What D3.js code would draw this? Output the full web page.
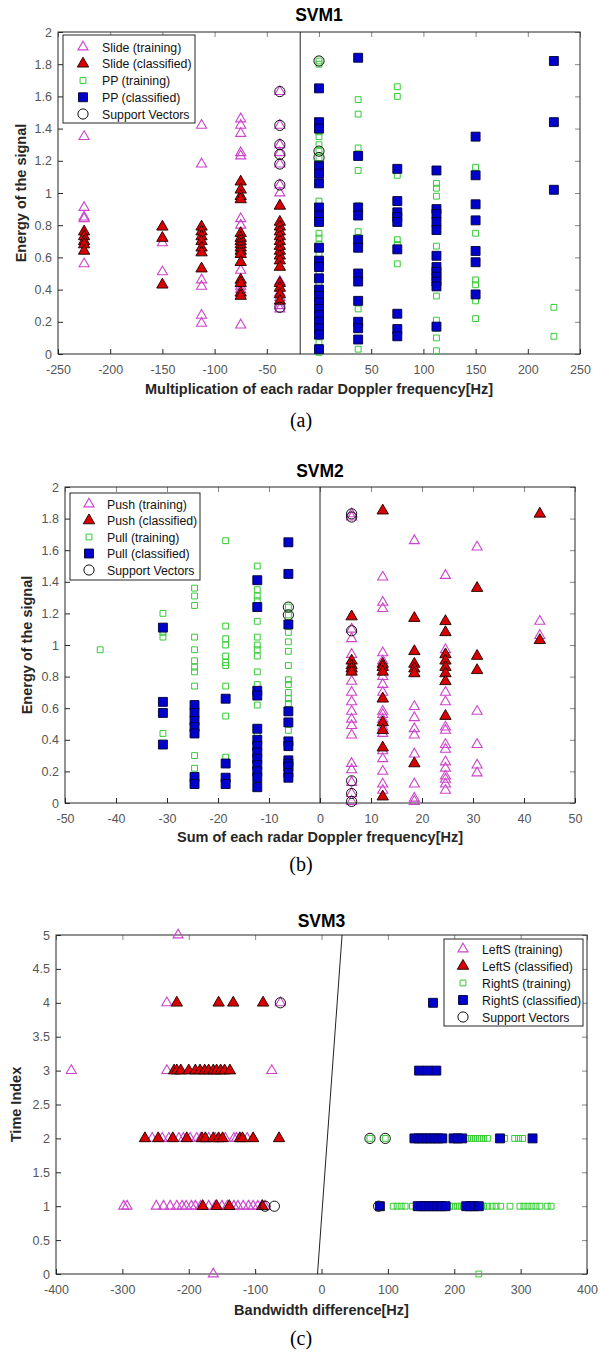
<!DOCTYPE html>
<html>
<head>
<meta charset="utf-8">
<script src="https://cdn.jsdelivr.net/npm/d3@7"></script>
<style>
  body { margin: 0; background: #fff; }
  svg text { font-family: "Liberation Sans", Arial, sans-serif; }
</style>
</head>
<body>
<div id="chart"></div>
<script>
// ---- SVM1 : [x, [y values]] columns ----
const slideTrainA = [
  [-225, [1.35, 0.91, 0.85, 0.84, 0.56]],
  [-150, [0.69, 0.51]],
  [-112.5, [1.42, 1.18, 0.46, 0.42, 0.24, 0.19]],
  [-75, [1.46, 1.42, 1.37, 1.25, 1.23, 0.84, 0.80, 0.52, 0.42, 0.40, 0.18]],
  [-37.5, [1.63, 1.42, 1.30, 1.25, 1.18, 1.05, 1.00, 0.92, 0.45, 0.38, 0.35, 0.30, 0.28]]
];
const slideClassA = [
  [-225, [0.76, 0.73, 0.70, 0.68, 0.64]],
  [-150, [0.79, 0.72, 0.43]],
  [-112.5, [0.79, 0.76, 0.73, 0.70, 0.66, 0.63, 0.53]],
  [-75, [1.07, 1.02, 0.98, 0.96, 0.75, 0.72, 0.70, 0.68, 0.66, 0.64, 0.62, 0.57, 0.46, 0.44, 0.38, 0.36]],
  [-37.5, [0.92, 0.82, 0.79, 0.76, 0.73, 0.70, 0.67, 0.64, 0.61, 0.58, 0.54, 0.44, 0.41, 0.37, 0.33]]
];
const ppTrainA = [
  [0, [1.82, 1.80, 1.38, 1.35, 1.30, 1.26, 1.22, 1.18, 0.95, 0.90, 0.75, 0.72, 0.68, 0.62, 0.50, 0.44, 0.07, 0.04, 0.01]],
  [37.5, [1.58, 1.49, 1.28, 1.14, 0.92, 0.76, 0.28, 0.03]],
  [75, [1.66, 1.60, 1.11, 0.71, 0.68, 0.56]],
  [112.5, [1.06, 1.03, 0.98, 0.88, 0.67, 0.36, 0.21, 0.16, 0.10, 0.02]],
  [150, [1.16, 0.75, 0.46, 0.43, 0.33, 0.22]],
  [225, [0.29, 0.11]]
];
const ppClassA = [
  [0, [1.65, 1.44, 1.40, 1.17, 1.12, 1.06, 0.91, 0.86, 0.82, 0.66, 0.58, 0.54, 0.47, 0.40, 0.36, 0.32, 0.28, 0.24, 0.20, 0.16, 0.12, 0.03]],
  [37.5, [1.84, 1.23, 0.91, 0.86, 0.71, 0.66, 0.50, 0.45, 0.33, 0.20, 0.16, 0.09]],
  [75, [1.15, 0.95, 0.88, 0.85, 0.82, 0.65, 0.25, 0.155, 0.11]],
  [112.5, [1.14, 0.90, 0.87, 0.82, 0.77, 0.61, 0.54, 0.51, 0.48, 0.45, 0.42, 0.17]],
  [150, [1.35, 1.11, 0.93, 0.83, 0.64, 0.57, 0.37]],
  [225, [1.82, 1.44, 1.02]]
];
const svA = [
  [-37.5, [1.63, 1.42, 1.30, 1.24, 1.18, 1.05, 0.29]],
  [0, [1.82, 1.26, 1.22]]
];
const boundaryA = [[-18, 0], [-18, 2]];
const xTicksA = [-250, -200, -150, -100, -50, 0, 50, 100, 150, 200, 250];
const yTicksA = [0, 0.2, 0.4, 0.6, 0.8, 1, 1.2, 1.4, 1.6, 1.8, 2];
const legendA = ["Slide (training)", "Slide (classified)", "PP (training)", "PP (classified)", "Support Vectors"];

// ---- SVM2 ----
const pushTrainB = [
  [6.2, [1.83, 1.81, 1.10, 1.04, 0.94, 0.85, 0.77, 0.70, 0.64, 0.58, 0.53, 0.49, 0.43, 0.25, 0.21, 0.13, 0.06, 0.01]],
  [12.3, [1.43, 1.27, 1.23, 0.95, 0.90, 0.86, 0.80, 0.75, 0.70, 0.66, 0.58, 0.56, 0.53, 0.48, 0.44, 0.33, 0.28, 0.20, 0.12, 0.08]],
  [18.5, [1.66, 0.61, 0.54, 0.47, 0.43, 0.31, 0.12, 0.03, 0.01]],
  [24.6, [1.44, 0.97, 0.70, 0.64, 0.48, 0.46, 0.37, 0.34, 0.26, 0.22, 0.17, 0.15, 0.12, 0.08]],
  [30.8, [1.62, 0.58, 0.37, 0.24, 0.19]],
  [43.1, [1.15, 1.06]]
];
const pushClassB = [
  [6.2, [1.18, 0.90, 0.87, 0.85, 0.83]],
  [12.3, [1.85, 0.88, 0.86, 0.83, 0.66, 0.51, 0.46, 0.35, 0.04]],
  [18.5, [1.17, 0.96, 0.88, 0.85, 0.82, 0.25]],
  [24.6, [1.15, 1.08, 0.94, 0.90, 0.86, 0.82, 0.77, 0.55]],
  [30.8, [1.36, 0.93, 0.84]],
  [43.1, [1.83, 1.03]]
];
const pullTrainB = [
  [-43.1, [0.97]],
  [-30.8, [1.20, 1.08, 1.05, 0.44]],
  [-24.6, [1.36, 1.31, 1.25, 1.05, 0.97, 0.90, 0.86, 0.83, 0.74, 0.30, 0.22]],
  [-18.5, [1.66, 1.12, 1.04, 1.00, 0.93, 0.89, 0.87, 0.74, 0.55, 0.29]],
  [-12.3, [1.50, 1.35, 1.31, 1.28, 1.25, 1.15, 1.05, 1.00, 0.97, 0.93, 0.83, 0.75, 0.62, 0.43]],
  [-6.2, [1.24, 1.19, 1.08, 1.02, 0.96, 0.87, 0.78, 0.75, 0.70, 0.66, 0.63, 0.46]]
];
const pullClassB = [
  [-30.8, [1.11, 0.64, 0.57, 0.37]],
  [-24.6, [0.62, 0.57, 0.52, 0.48, 0.44, 0.165, 0.12]],
  [-18.5, [0.66, 0.25, 0.16, 0.12]],
  [-12.3, [1.41, 1.24, 0.71, 0.68, 0.47, 0.40, 0.36, 0.32, 0.28, 0.24, 0.20, 0.16, 0.10]],
  [-6.2, [1.65, 1.45, 1.13, 0.58, 0.51, 0.39, 0.36, 0.27, 0.25, 0.23, 0.19, 0.16]]
];
const svB = [
  [6.2, [1.83, 1.81, 1.09, 0.14, 0.06, 0.01]],
  [-6.2, [1.24, 1.19]]
];
const boundaryB = [[0, 0], [0, 2]];
const xTicksB = [-50, -40, -30, -20, -10, 0, 10, 20, 30, 40, 50];
const yTicksB = yTicksA;
const legendB = ["Push (training)", "Push (classified)", "Pull (training)", "Pull (classified)", "Support Vectors"];

// ---- SVM3 : [y, [x values]] rows ----
const leftTrainC = [
  [5, [-216]],
  [4, [-233, -62]],
  [3, [-377, -233, -75]],
  [2, [-255, -240, -230, -215, -208, -198, -188, -182, -170, -160, -145, -132, -128, -112]],
  [1, [-298, -293, -249, -238, -228, -218, -210, -204, -196, -190, -182, -170, -160, -150, -142, -132, -126, -118, -110, -103, -96, -90, -85]],
  [0, [-163]]
];
const leftClassC = [
  [4, [-218, -155, -133, -88]],
  [3, [-222, -218, -212, -200, -190, -183, -176, -170, -163, -158, -152, -146, -138]],
  [2, [-266, -246, -224, -203, -180, -175, -163, -155, -149, -123, -119, -103, -64]],
  [1, [-179, -158, -139, -89]]
];
const rightTrainC = [
  [2, [73, 96, 220, 226, 232, 238, 244, 250, 276, 291, 297, 303]],
  [1, [108, 114, 120, 126, 137, 193, 199, 205, 211, 217, 244, 250, 257, 263, 270, 284, 299, 305, 311, 317, 323, 329, 340, 346]],
  [0, [237]]
];
const rightClassC = [
  [4, [168]],
  [3, [147, 160, 173]],
  [2, [140, 146, 152, 158, 164, 170, 176, 182, 199, 205, 212, 269, 318]],
  [1, [88, 145, 151, 157, 163, 169, 175, 181, 187, 218, 224, 230, 237]]
];
const svC = [
  [4, [-62]],
  [2, [73, 96]],
  [1, [-85, -71, 86]]
];
const boundaryC = [[-6, 0], [31, 5]];
const xTicksC = [-400, -300, -200, -100, 0, 100, 200, 300, 400];
const yTicksC = [0, 0.5, 1, 1.5, 2, 2.5, 3, 3.5, 4, 4.5, 5];
const legendC = ["LeftS (training)", "LeftS (classified)", "RightS (training)", "RightS (classified)", "Support Vectors"];

const cols = list => list.flatMap(([x, ys]) => ys.map(y => ({x, y})));
const rows = list => list.flatMap(([y, xs]) => xs.map(x => ({x, y})));

const W = 603, H = 1356;
const svg = d3.select("#chart").append("svg")
  .attr("width", W).attr("height", H);

// marker styles, in legend order
const styles = [
  {type: d3.symbolTriangle, size: 44, fill: "none", stroke: "#cc44cc", sw: 1.1},
  {type: d3.symbolTriangle, size: 56, fill: "#d80000", stroke: "#1a0000", sw: 0.9},
  {type: d3.symbolSquare, size: 34, fill: "none", stroke: "#33cc33", sw: 1},
  {type: d3.symbolSquare, size: 80, fill: "#0000cc", stroke: "#000033", sw: 0.9},
  {type: d3.symbolCircle, size: 82, fill: "none", stroke: "#111", sw: 1}
];

const fmt = d => String(+d.toFixed(2));

function drawPanel(p) {
  const x = d3.scaleLinear().domain(p.xDomain).range([p.left, p.right]);
  const y = d3.scaleLinear().domain(p.yDomain).range([p.bottom, p.top]);
  const g = svg.append("g");

  g.append("text")
    .attr("x", (p.left + p.right) / 2).attr("y", p.titleY)
    .attr("text-anchor", "middle").attr("font-weight", "bold")
    .attr("font-size", "17.5px").attr("fill", "#000")
    .text(p.title);

  // axes with inward ticks
  const bottom = g.append("g").attr("transform", `translate(0,${p.bottom})`)
    .call(d3.axisBottom(x).tickValues(p.xTicks).tickFormat(fmt)
      .tickSizeInner(-5).tickSizeOuter(0).tickPadding(11));
  const left = g.append("g").attr("transform", `translate(${p.left},0)`)
    .call(d3.axisLeft(y).tickValues(p.yTicks).tickFormat(fmt)
      .tickSizeInner(-5).tickSizeOuter(0).tickPadding(6));
  const top = g.append("g").attr("transform", `translate(0,${p.top})`)
    .call(d3.axisTop(x).tickValues(p.xTicks).tickFormat("")
      .tickSizeInner(-5).tickSizeOuter(0));
  const right = g.append("g").attr("transform", `translate(${p.right},0)`)
    .call(d3.axisRight(y).tickValues(p.yTicks).tickFormat("")
      .tickSizeInner(-5).tickSizeOuter(0));
  [bottom, left].forEach(a => {
    a.selectAll("text").attr("font-size", "12.5px").attr("fill", "#555")
      .style("font-family", "'Liberation Sans', Arial, sans-serif");
    a.selectAll("line").attr("stroke", "#262626");
  });
  [top, right].forEach(a => a.selectAll("line").attr("stroke", "#888"));
  g.selectAll(".domain").remove();

  g.append("rect")
    .attr("x", p.left).attr("y", p.top)
    .attr("width", p.right - p.left).attr("height", p.bottom - p.top)
    .attr("fill", "none").attr("stroke", "#262626").attr("stroke-width", 1);

  // markers: training sets, classified sets, support vectors
  const order = [0, 2, 1, 3, 4];
  order.forEach(k => {
    const s = styles[k];
    g.append("g").selectAll("path")
      .data(p.series[k])
      .join("path")
      .attr("transform", d => `translate(${x(d.x)},${y(d.y)})`)
      .attr("d", d3.symbol().type(s.type).size(s.size))
      .attr("fill", s.fill).attr("stroke", s.stroke).attr("stroke-width", s.sw);
  });

  // decision boundary
  g.append("path")
    .datum(p.boundary)
    .attr("d", d3.line().x(d => x(d[0])).y(d => y(d[1])))
    .attr("stroke", "#222").attr("stroke-width", 1).attr("fill", "none");

  // axis labels
  g.append("text")
    .attr("x", (p.left + p.right) / 2).attr("y", p.xLabelY)
    .attr("text-anchor", "middle").attr("font-weight", "bold")
    .attr("font-size", "14.5px").attr("fill", "#262626")
    .text(p.xLabel);
  g.append("text")
    .attr("transform", `translate(${p.yLabelX},${(p.top + p.bottom) / 2}) rotate(-90)`)
    .attr("text-anchor", "middle").attr("font-weight", "bold")
    .attr("font-size", "14.5px").attr("fill", "#262626")
    .text(p.yLabel);

  // caption
  g.append("text")
    .attr("x", 301).attr("y", p.captionY)
    .attr("text-anchor", "middle")
    .attr("font-size", "20px")
    .style("font-family", "'Liberation Serif', 'Times New Roman', serif")
    .text(p.caption);

  // legend
  const L = p.legendBox;
  const lg = g.append("g");
  lg.append("rect")
    .attr("x", L.x0).attr("y", L.y0)
    .attr("width", L.x1 - L.x0).attr("height", L.y1 - L.y0)
    .attr("fill", "#fff").attr("stroke", "#262626").attr("stroke-width", 1);
  const ly = d3.scalePoint().domain(d3.range(p.legend.length)).range([L.first, L.last]);
  p.legend.forEach((name, i) => {
    const s = styles[i];
    lg.append("path")
      .attr("transform", `translate(${L.symX},${ly(i)})`)
      .attr("d", d3.symbol().type(s.type).size(s.size))
      .attr("fill", s.fill).attr("stroke", s.stroke).attr("stroke-width", s.sw);
    lg.append("text")
      .attr("x", L.textX).attr("y", ly(i) + 4.5)
      .attr("font-size", "12.3px").attr("fill", "#111")
      .text(name);
  });
}

drawPanel({
  title: "SVM1", titleY: 21,
  left: 58, right: 580, top: 32, bottom: 354,
  xDomain: [-250, 250], yDomain: [0, 2],
  xTicks: xTicksA, yTicks: yTicksA,
  series: [cols(slideTrainA), cols(slideClassA), cols(ppTrainA), cols(ppClassA), cols(svA)],
  boundary: boundaryA,
  xLabel: "Multiplication of each radar Doppler frequency[Hz]", xLabelY: 394,
  yLabel: "Energy of the signal", yLabelX: 26,
  caption: "(a)", captionY: 427,
  legend: legendA,
  legendBox: {x0: 63, x1: 195, y0: 35, y1: 123, symX: 83, textX: 102, first: 47, last: 114}
});

drawPanel({
  title: "SVM2", titleY: 477,
  left: 65, right: 575, top: 487, bottom: 803,
  xDomain: [-50, 50], yDomain: [0, 2],
  xTicks: xTicksB, yTicks: yTicksB,
  series: [cols(pushTrainB), cols(pushClassB), cols(pullTrainB), cols(pullClassB), cols(svB)],
  boundary: boundaryB,
  xLabel: "Sum of each radar Doppler frequency[Hz]", xLabelY: 842,
  yLabel: "Energy of the signal", yLabelX: 32,
  caption: "(b)", captionY: 871,
  legend: legendB,
  legendBox: {x0: 70, x1: 200, y0: 493, y1: 580, symX: 89, textX: 107, first: 504, last: 570}
});

drawPanel({
  title: "SVM3", titleY: 927,
  left: 56, right: 587, top: 935, bottom: 1274,
  xDomain: [-400, 400], yDomain: [0, 5],
  xTicks: xTicksC, yTicks: yTicksC,
  series: [rows(leftTrainC), rows(leftClassC), rows(rightTrainC), rows(rightClassC), rows(svC)],
  boundary: boundaryC,
  xLabel: "Bandwidth difference[Hz]", xLabelY: 1315,
  yLabel: "Time Index", yLabelX: 21,
  caption: "(c)", captionY: 1345,
  legend: legendC,
  legendBox: {x0: 444, x1: 583, y0: 939, y1: 1026, symX: 463, textX: 482, first: 949, last: 1017}
});
</script>
</body>
</html>
